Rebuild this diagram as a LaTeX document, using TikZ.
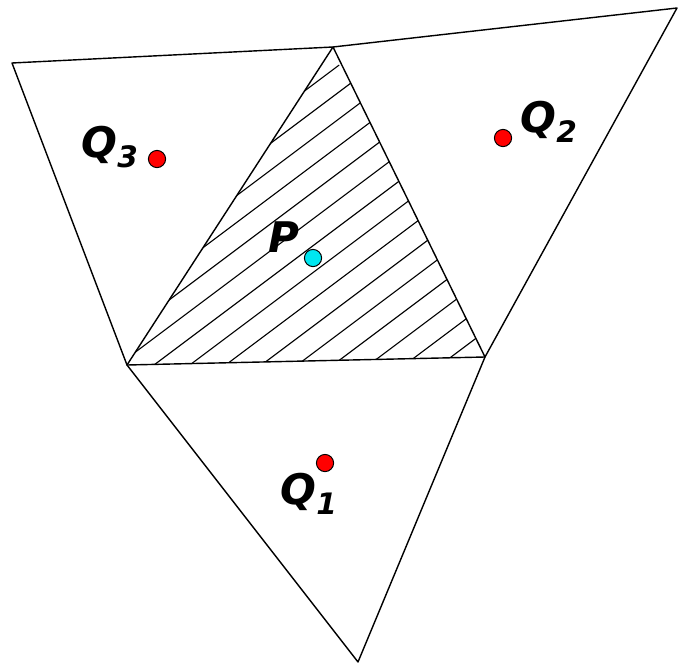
\documentclass[tikz,border=0pt]{standalone}
\usepackage{fontspec}
\setsansfont{DejaVu Sans}
\usepackage{xcolor}
\usepackage{tikz}
\usetikzlibrary{positioning,calc}
\definecolor{ptred}{RGB}{255,0,0}
\definecolor{ptcyan}{RGB}{0,230,240}
\tikzset{
    edge/.style={line width=1pt,black,line join=round},
    hatch/.style={line width=0.8pt,black},
    pt/.style={circle,draw=black,line width=0.7pt,minimum size=4.3mm,inner sep=0pt},
    qpt/.style={pt,fill=ptred},
    ppt/.style={pt,fill=ptcyan},
    lbl/.style={font=\fontsize{30}{33}\selectfont\sffamily\bfseries\itshape,inner sep=0pt},
}

\begin{document}
\begin{tikzpicture}[x=0.025cm,y=-0.025cm]
\useasboundingbox (0,0) rectangle (678,664);
% mesh vertices
\coordinate (tl) at (12,63);
\coordinate (tm) at (333,47);
\coordinate (tr) at (677,8);
\coordinate (vl) at (127,365);
\coordinate (vr) at (485,357);
\coordinate (bt) at (358,662);

% hatched centre triangle
\begin{scope}
  \clip (tm) -- (vl) -- (vr) -- cycle;
  \foreach \k in {-12,...,10}
    \draw[hatch] ({154+35.8*\k-400},{365+300}) -- ({154+35.8*\k+400},{365-300});
\end{scope}

% edges
\draw[edge] (tl) -- (tm) -- (tr) -- (vr) -- (vl) -- cycle;
\draw[edge] (tm) -- (vl);
\draw[edge] (tm) -- (vr);
\draw[edge] (vl) -- (bt) -- (vr);

% points and labels
\node[ppt] (P) at (313,258) {};
\node[qpt] (Q1) at (325,463) {};
\node[qpt] (Q2) at (503,138) {};
\node[qpt] (Q3) at (157,159) {};

\node[lbl] (lP) at (284,237) {P};
\node[lbl] (lQ1) at (309,494) {Q\textsubscript{1}};
\node[lbl] (lQ2) at (549,122) {Q\textsubscript{2}};
\node[lbl] (lQ3) at (110,147) {Q\textsubscript{3}};
\end{tikzpicture}
\end{document}
